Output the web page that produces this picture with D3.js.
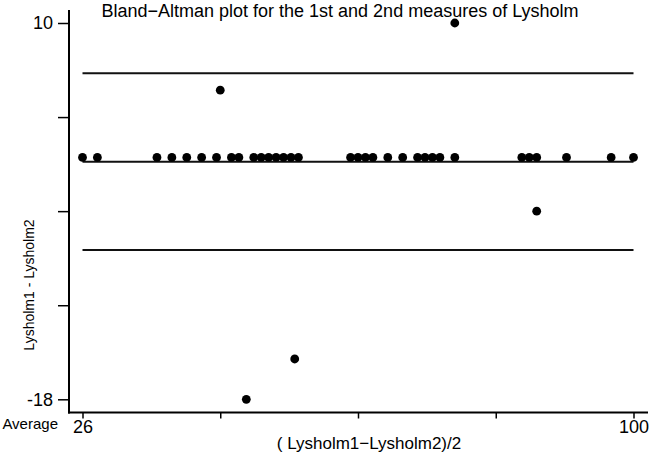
<!DOCTYPE html>
<html>
<head>
<meta charset="utf-8">
<script src="https://cdn.jsdelivr.net/npm/d3@7"></script>
<style>
  body { margin: 0; background: #fff; }
  svg { display: block; font-family: "Liberation Sans", Arial, sans-serif; }
</style>
</head>
<body>
<div id="main"></div>
<script>
// averages (x) and differences (y)
const averages = [26, 28, 36, 38, 40, 42, 44, 46, 47, 49, 50, 51, 52, 53, 54, 55,
    62, 63, 64, 65, 67, 69, 71, 72, 73, 74, 76, 85, 86, 87, 91, 97, 100,
    44.5, 76, 87, 54.5, 48];
const differences = [0, 0, 0, 0, 0, 0, 0, 0, 0, 0, 0, 0, 0, 0, 0, 0,
    0, 0, 0, 0, 0, 0, 0, 0, 0, 0, 0, 0, 0, 0, 0, 0, 0,
    5, 10, -4, -15, -18];
// mean difference and limits of agreement
const refLines = [6.26, -0.32, -6.9];
const xTicks = [26, 44.5, 63, 81.5, 100];
const yTicks = [10, 3, -4, -11, -18];
const xLabelled = [26, 100], yLabelled = [10, -18];

const W = 650, H = 453;
const pad = { top: 10, left: 69, bottom: 41, right: 2 };

const x = d3.scaleLinear().domain([26, 100]).range([82.5, 633.5]);
const y = d3.scaleLinear().domain([-18, 10]).range([399.3, 23]);

const svg = d3.select('#main').append('svg')
    .attr('width', W)
    .attr('height', H);

const axisY = H - pad.bottom + 0.5;

// axis lines
svg.append('line')
    .attr('x1', pad.left).attr('x2', pad.left)
    .attr('y1', pad.top).attr('y2', axisY + 1)
    .attr('stroke', '#000').attr('stroke-width', 2);
svg.append('line')
    .attr('x1', pad.left - 1).attr('x2', W - pad.right)
    .attr('y1', axisY).attr('y2', axisY)
    .attr('stroke', '#000').attr('stroke-width', 2);

const gy = svg.append('g')
    .attr('transform', 'translate(' + pad.left + ',0)')
    .call(d3.axisLeft(y)
        .tickValues(yTicks)
        .tickSize(11)
        .tickPadding(5)
        .tickFormat(d => yLabelled.includes(d) ? d : ''));
gy.select('.domain').remove();
gy.selectAll('.tick line').attr('stroke-width', 1.5);
gy.selectAll('.tick text').attr('font-size', 18).attr('font-family', null);

const gx = svg.append('g')
    .attr('transform', 'translate(0,' + axisY + ')')
    .call(d3.axisBottom(x)
        .tickValues(xTicks)
        .tickSize(6)
        .tickPadding(2)
        .tickFormat(d => xLabelled.includes(d) ? d : ''));
gx.select('.domain').remove();
gx.selectAll('.tick line').attr('stroke-width', 1.5);
gx.selectAll('.tick text').attr('font-size', 18).attr('font-family', null);

// reference lines
svg.selectAll('line.ref')
    .data(refLines)
    .enter()
    .append('line')
    .attr('class', 'ref')
    .attr('x1', x(26)).attr('x2', x(100))
    .attr('y1', d => y(d)).attr('y2', d => y(d))
    .attr('stroke', '#111')
    .attr('stroke-width', 2);

// points
svg.selectAll('circle')
    .data(averages.map((a, i) => ({ a: a, d: differences[i] })))
    .enter()
    .append('circle')
    .attr('cx', d => x(d.a))
    .attr('cy', d => y(d.d))
    .attr('r', 4.4)
    .attr('fill', '#000');

// texts
svg.append('text')
    .attr('x', 340).attr('y', 17)
    .attr('text-anchor', 'middle')
    .attr('font-size', 18)
    .text('Bland\u2212Altman plot for the 1st and 2nd measures of Lysholm');

svg.append('text')
    .attr('transform', 'translate(34,285) rotate(-90)')
    .attr('text-anchor', 'middle')
    .attr('font-size', 14)
    .text('Lysholm1 - Lysholm2');

svg.append('text')
    .attr('x', 58).attr('y', 429)
    .attr('text-anchor', 'end')
    .attr('font-size', 15)
    .text('Average');

svg.append('text')
    .attr('x', 369).attr('y', 449)
    .attr('text-anchor', 'middle')
    .attr('font-size', 17)
    .text('( Lysholm1\u2212Lysholm2)/2');
</script>
</body>
</html>
